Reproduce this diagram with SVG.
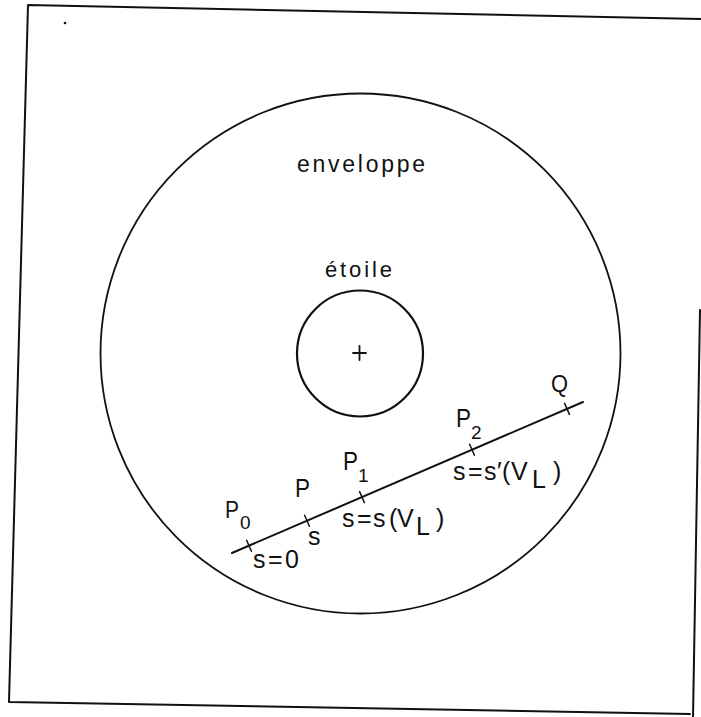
<svg xmlns="http://www.w3.org/2000/svg" width="701" height="717" viewBox="0 0 701 717">
<style>
.ln{fill:none;stroke:#111;stroke-linecap:round;stroke-linejoin:round}
.t{font-family:"Liberation Sans",Arial,sans-serif;fill:#111}
.m{font-size:25px}
.sub{font-size:19px}
</style>
<rect width="701" height="717" fill="#fff"/>
<g id="frame">
<path class="ln" d="M701,19 L28,5 L9,702 L690,714" stroke-width="2"/>
<path class="ln" d="M700,310 L693,717" stroke-width="2"/>
<circle cx="65" cy="23" r="1.3" fill="#111"/>
</g>
<g id="envelope">
<circle class="ln" cx="360.5" cy="353.5" r="260" stroke-width="1.8"/>
<text class="t" x="297" y="172" font-size="23" textLength="128" lengthAdjust="spacing">enveloppe</text>
</g>
<g id="star">
<circle class="ln" cx="360" cy="353.5" r="63" stroke-width="2.2"/>
<path class="ln" d="M353,353 H366 M359.5,346 V360" stroke-width="1.8"/>
<text class="t" x="325" y="277" font-size="22" textLength="67" lengthAdjust="spacing">étoile</text>
</g>
<g id="connectors">
<path class="ln" d="M232,553 L583,402" stroke-width="2"/>
<path class="ln" d="M246.6,540.2 L251.4,551.2 M304.6,515.2 L309.4,526.2 M359.6,491.6 L364.4,502.6 M469.6,444.2 L474.4,455.2 M564.6,403.4 L569.4,414.4" stroke-width="1.5"/>
</g>
<g id="labels">
<g id="P0"><text class="t" x="225" y="518" font-size="23" textLength="14" lengthAdjust="spacingAndGlyphs">P</text><text class="t sub" x="240" y="529">0</text></g>
<g id="P"><text class="t m" x="295" y="497" textLength="15" lengthAdjust="spacingAndGlyphs">P</text></g>
<g id="P1"><text class="t m" x="343" y="470" textLength="15" lengthAdjust="spacingAndGlyphs">P</text><text class="t sub" x="358" y="482">1</text></g>
<g id="P2"><text class="t m" x="456" y="427" textLength="15" lengthAdjust="spacingAndGlyphs">P</text><text class="t sub" x="471" y="439">2</text></g>
<g id="Q"><text class="t" x="551" y="392" font-size="24" textLength="17" lengthAdjust="spacingAndGlyphs">Q</text></g>
<g id="s"><text class="t m" x="308" y="545">s</text></g>
<g id="s0"><text class="t m" x="253" y="568" textLength="46" lengthAdjust="spacing">s=0</text></g>
<g id="sVL"><text class="t m" y="527"><tspan x="342">s</tspan><tspan x="357">=</tspan><tspan x="373">s</tspan><tspan x="389">(</tspan><tspan x="397">V</tspan></text><text class="t m" x="416" y="535">L</text><text class="t m" x="436" y="527">)</text></g>
<g id="sVL2"><text class="t m" y="480"><tspan x="453">s</tspan><tspan x="468">=</tspan><tspan x="484">s</tspan><tspan x="497">′</tspan><tspan x="502">(</tspan><tspan x="511">V</tspan></text><text class="t m" x="532" y="488">L</text><text class="t m" x="553" y="480">)</text></g>
</g>
</svg>
